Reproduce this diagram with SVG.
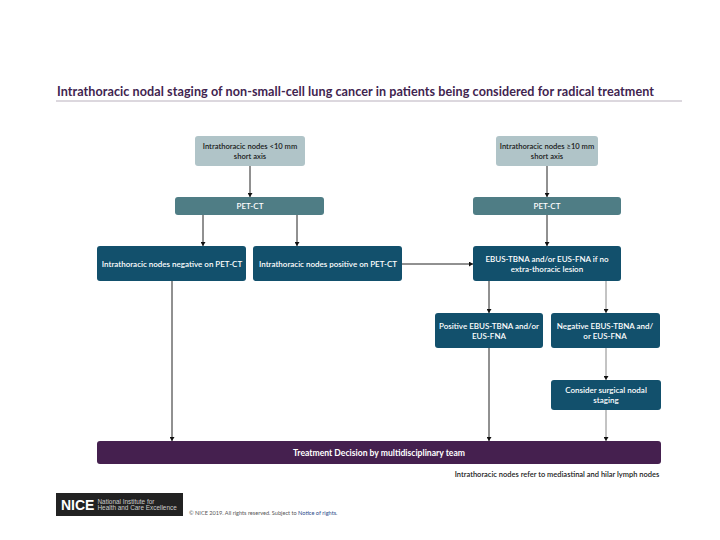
<svg xmlns="http://www.w3.org/2000/svg" width="720" height="540" viewBox="0 0 720 540">
<style>
text{font-family:Lato,"Liberation Sans",sans-serif;text-anchor:middle}
.t{font-size:8px;font-weight:600}
.s{font-size:7.6px;font-weight:600}
.w{fill:#fff}
.k{fill:#1a1a1a}
.a{fill:#b0c4c8}
.p{fill:#4f7d85}
.n{fill:#12506c}
.c{stroke:#222;stroke-width:1;fill:none;marker-end:url(#h)}
.g{stroke:#888;stroke-width:1;fill:none;marker-end:url(#h)}
</style>
<defs><marker id="h" markerUnits="userSpaceOnUse" markerWidth="5" markerHeight="5" refX="4" refY="2.5" orient="auto"><path d="M0 0L4 2.5L0 5Z" fill="#111"/></marker></defs>
<rect width="720" height="540" fill="#fff"/>
<g id="title"><text x="57" y="96" style="text-anchor:start;font-size:12.6px;font-weight:700" fill="#41244f" textLength="597">Intrathoracic nodal staging of non-small-cell lung cancer in patients being considered for radical treatment</text><path d="M56 101H682" stroke="#a79dac" stroke-width="0.8"/></g>
<g id="connectors">
<path class="c" d="M250 166V197"/>
<path class="c" d="M203 215V246"/>
<path class="c" d="M297 215V246"/>
<path class="c" d="M547 166V197"/>
<path class="c" d="M547 215V246"/>
<path class="c" d="M402 264H473"/>
<path class="c" d="M172 281V441"/>
<path class="c" d="M489 281V313"/>
<path class="g" d="M606 281V313"/>
<path class="c" d="M489 348V441"/>
<path class="g" d="M606 348V380"/>
<path class="g" d="M606 410V441"/>
</g>
<g id="n1"><rect class="a" x="195" y="136" width="110" height="30" rx="3"/><text class="s k" x="250" y="149">Intrathoracic nodes &lt;10 mm</text><text class="s k" x="250" y="159">short axis</text></g>
<g id="n2"><rect class="a" x="496" y="136" width="102" height="30" rx="3"/><text class="s k" x="547" y="149">Intrathoracic nodes ≥10 mm</text><text class="s k" x="547" y="159">short axis</text></g>
<g id="n3"><rect class="p" x="175" y="197" width="149" height="18" rx="3"/><text class="t w" x="250" y="209">PET-CT</text></g>
<g id="n4"><rect class="p" x="473" y="197" width="148" height="18" rx="3"/><text class="t w" x="547" y="209">PET-CT</text></g>
<g id="n5"><rect class="n" x="97" y="246" width="149" height="35" rx="3"/><text class="t w" x="172" y="267">Intrathoracic nodes negative on PET-CT</text></g>
<g id="n6"><rect class="n" x="253" y="246" width="149" height="35" rx="3"/><text class="t w" x="328" y="267">Intrathoracic nodes positive on PET-CT</text></g>
<g id="n7"><rect class="n" x="473" y="246" width="148" height="35" rx="3"/><text class="t w" x="547" y="262">EBUS-TBNA and/or EUS-FNA if no</text><text class="t w" x="547" y="272">extra-thoracic lesion</text></g>
<g id="n8"><rect class="n" x="435" y="313" width="108" height="35" rx="3"/><text class="t w" x="489" y="329">Positive EBUS-TBNA and/or</text><text class="t w" x="489" y="339">EUS-FNA</text></g>
<g id="n9"><rect class="n" x="551" y="313" width="109" height="35" rx="3"/><text class="t w" x="605" y="329">Negative EBUS-TBNA and/</text><text class="t w" x="605" y="339">or EUS-FNA</text></g>
<g id="n10"><rect class="n" x="551" y="380" width="110" height="30" rx="3"/><text class="t w" x="606" y="393">Consider surgical nodal</text><text class="t w" x="606" y="403">staging</text></g>
<g id="n11"><rect x="97" y="441" width="564" height="23" rx="3" fill="#45204f"/><text class="w" x="379" y="456" style="font-size:8.6px;font-weight:700">Treatment Decision by multidisciplinary team</text></g>
<text x="557" y="477" style="font-size:7.5px;font-weight:600" class="k">Intrathoracic nodes refer to mediastinal and hilar lymph nodes</text>
<g id="logo"><rect x="56" y="493" width="127" height="23" fill="#222"/><text x="61" y="510" style="text-anchor:start;font:700 14px 'Liberation Sans',sans-serif" fill="#fff">NICE</text><text x="97.500" y="503.500" style="text-anchor:start;font:6.400px 'Liberation Sans',sans-serif" fill="#ccc">National Institute for</text><text x="97.500" y="509.500" style="text-anchor:start;font:6.400px 'Liberation Sans',sans-serif" fill="#ccc">Health and Care Excellence</text></g>
<text x="189" y="515" style="text-anchor:start;font-size:5.600px" fill="#555">© NICE 2019. All rights reserved. Subject to <tspan fill="#2a4a8a">Notice of rights</tspan>.</text>
</svg>
